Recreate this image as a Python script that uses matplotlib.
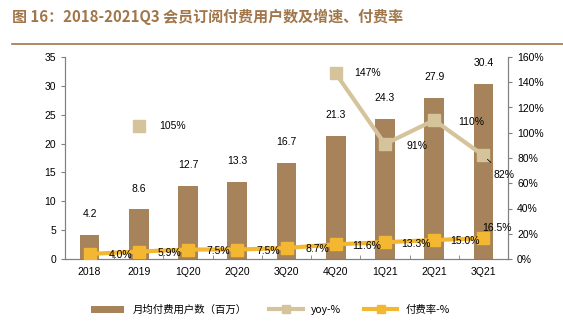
import matplotlib.pyplot as plt
import numpy as np

plt.rcParams['font.family'] = ['Liberation Sans', 'Noto Sans CJK SC', 'DejaVu Sans']

cats = ['2018', '2019', '1Q20', '2Q20', '3Q20', '4Q20', '1Q21', '2Q21', '3Q21']
users = [4.2, 8.6, 12.7, 13.3, 16.7, 21.3, 24.3, 27.9, 30.4]
yoy = [np.nan, 105, np.nan, np.nan, np.nan, 147, 91, 110, 82]
rate = [4.0, 5.9, 7.5, 7.5, 8.7, 11.6, 13.3, 15.0, 16.5]

c_bar = '#A6835A'
c_yoy = '#D5C49B'
c_rate = '#F4B731'
c_title = '#A0764A'

fig = plt.figure(figsize=(5.63, 3.31), dpi=100)
ax = fig.add_axes([65 / 563, 1 - 259 / 331, (508 - 65) / 563, (259 - 57) / 331])
ax2 = ax.twinx()

x = np.arange(len(cats))
ax.bar(x, users, width=0.4, color=c_bar, label='月均付费用户数（百万）', zorder=2)
for xi, v in zip(x, users):
    ax.annotate(f'{v}', (xi, v), xytext=(0, 15), textcoords='offset points',
                ha='center', va='center', fontsize=7.5)

ax.set_ylim(0, 35)
ax.set_yticks(range(0, 36, 5))
ax.set_xlim(-0.5, len(cats) - 0.5)
ax.set_xticks(x)
ax.set_xticklabels(cats)
ax.set_xticks(np.arange(-0.5, len(cats), 1), minor=True)
ax.tick_params(axis='x', which='major', length=0, labelsize=7.5, pad=6)
ax.tick_params(axis='x', which='minor', length=3, direction='in', color='#808080')
ax.tick_params(axis='y', length=3, labelsize=7.5, color='#808080')

ax2.plot(x, yoy, color=c_yoy, lw=3, marker='s', ms=9, label='yoy-%', zorder=3)
ax2.plot(x, rate, color=c_rate, lw=3, marker='s', ms=9, label='付费率-%', zorder=4)
ax2.set_ylim(0, 160)
ax2.set_yticks(range(0, 161, 20))
ax2.set_yticklabels([f'{v}%' for v in range(0, 161, 20)])
ax2.tick_params(axis='y', length=3, labelsize=7.5, color='#808080')

# yoy labels
yoy_off = {1: (24, 0), 5: (23, 0), 6: (23, -1), 7: (27, -1)}
for i, (dx, dy) in yoy_off.items():
    ax2.annotate(f'{yoy[i]:.0f}%', (x[i], yoy[i]), xytext=(dx, dy), textcoords='offset points',
                 ha='center', va='center', fontsize=7.5, zorder=6)
ax2.annotate(f'{yoy[8]:.0f}%', (x[8], yoy[8]), xytext=(15, -14), textcoords='offset points',
             ha='center', va='center', fontsize=7.5, zorder=6,
             arrowprops=dict(arrowstyle='-', color='black', lw=0.6, shrinkA=5, shrinkB=4))

# rate labels
for i in range(len(cats) - 1):
    ax2.annotate(f'{rate[i]:.1f}%', (x[i], rate[i]), xytext=(22, -1), textcoords='offset points',
                 ha='center', va='center', fontsize=7.5, zorder=6)
ax2.annotate(f'{rate[-1]:.1f}%', (x[-1], rate[-1]), xytext=(10, 7), textcoords='offset points',
             ha='center', va='center', fontsize=7.5, zorder=6)

for a in (ax, ax2):
    a.spines['top'].set_visible(False)
    a.spines['left'].set_color('#808080')
    a.spines['right'].set_color('#808080')
    a.spines['bottom'].set_color('#808080')

h1, l1 = ax.get_legend_handles_labels()
h2, l2 = ax2.get_legend_handles_labels()
fig.legend(h1 + h2, l1 + l2, loc='center', bbox_to_anchor=(0.48, 1 - 310 / 331), ncol=3,
           frameon=False, handlelength=3.2, columnspacing=2.2, markerscale=0.6,
           prop={'family': ['Noto Sans CJK SC', 'DejaVu Sans'], 'size': 7.5})

fig.text(12 / 563, 1 - 17 / 331, '图 16：2018-2021Q3 会员订阅付费用户数及增速、付费率',
         fontsize=10.8, fontweight='bold', color=c_title, va='center', ha='left',
         family=['Noto Sans CJK SC', 'DejaVu Sans'])
fig.add_artist(plt.Line2D([12 / 563, 1], [1 - 44 / 331, 1 - 44 / 331], color=c_title, lw=1.2))

fig.savefig('out.png', dpi=100)
